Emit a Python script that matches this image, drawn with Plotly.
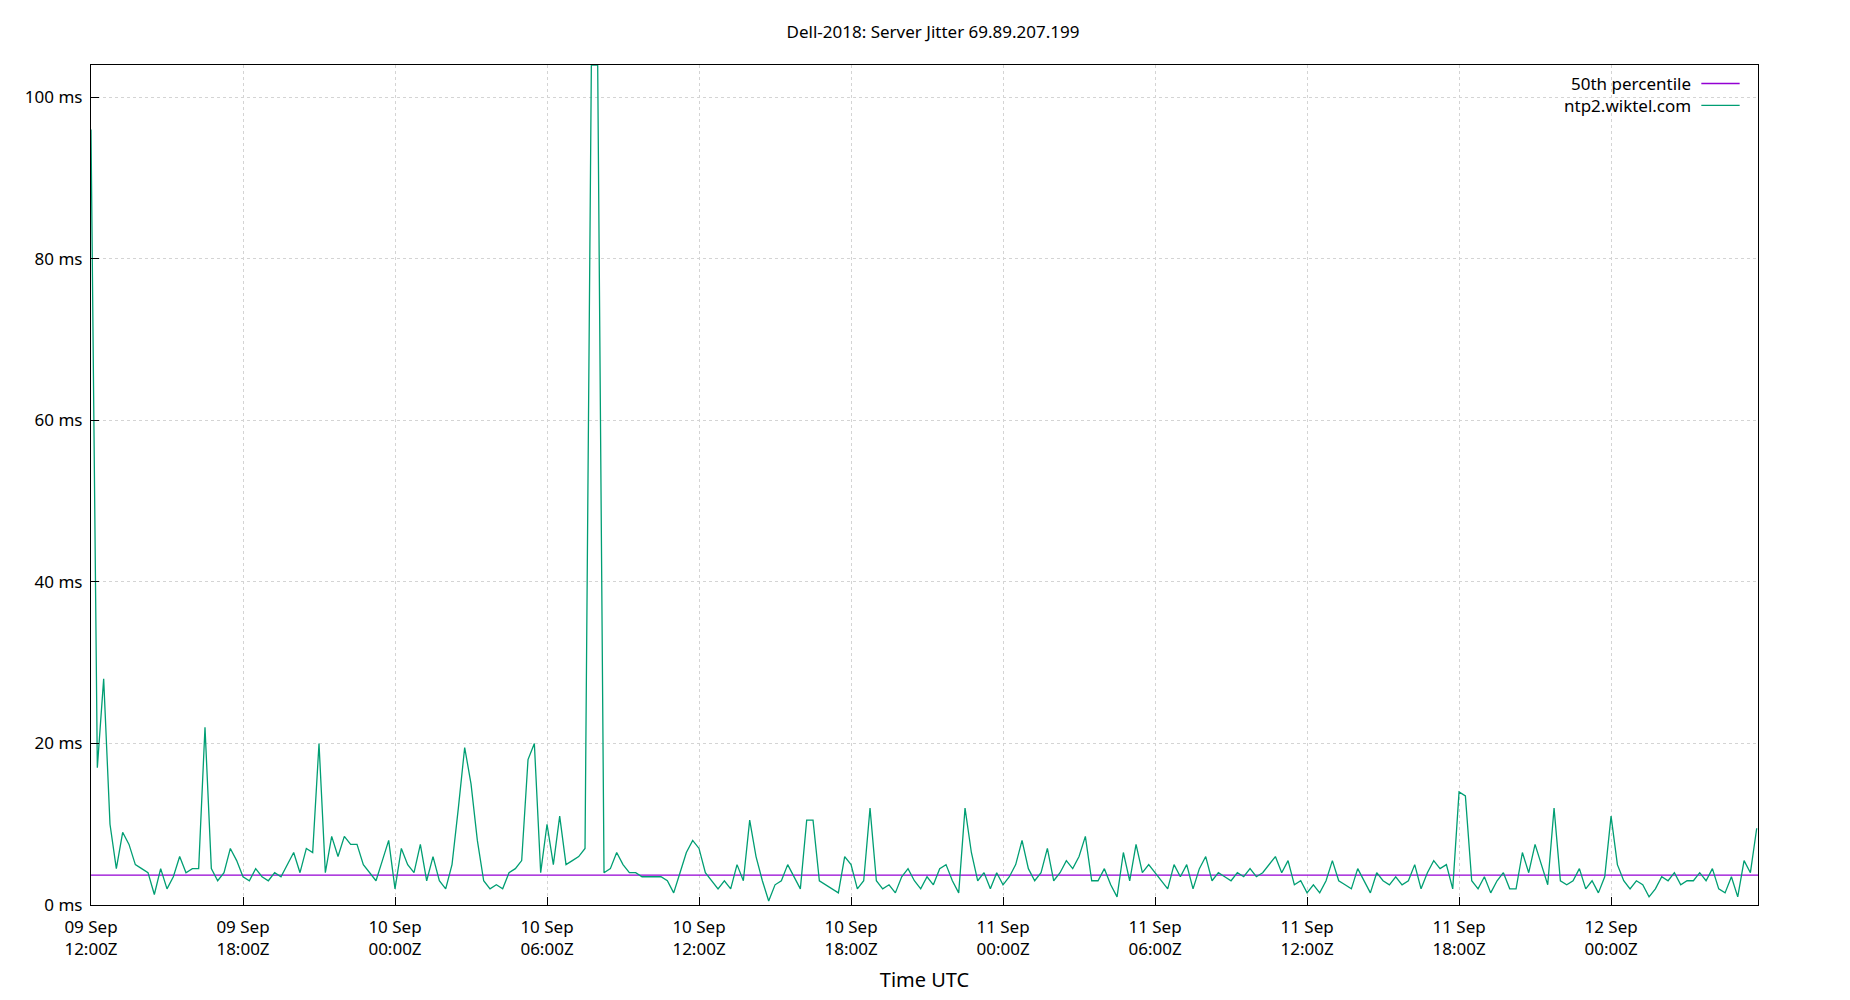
import plotly.graph_objects as go
import pandas as pd

start = "2018-09-09 12:00"
step_minutes = 15
jitter_ms = [
 96, 17, 28, 10, 4.5, 9, 7.5, 5, 4.5, 4, 1.3, 4.5, 2, 3.5, 6, 4, 4.5, 4.5, 22, 4.5, 3, 4, 7, 5.5,
 3.5, 3, 4.5, 3.5, 3, 4, 3.5, 5, 6.5, 4, 7, 6.5, 20, 4, 8.5, 6, 8.5, 7.5, 7.5, 5, 4, 3, 5.5, 8,
 2, 7, 5, 4, 7.5, 3, 6, 3, 2, 5, 12, 19.5, 15, 8, 3, 2, 2.5, 2, 4, 4.5, 5.5, 18, 20, 4,
 10, 5, 11, 5, 5.5, 6, 7, 104, 104, 4, 4.5, 6.5, 5, 4, 4, 3.5, 3.5, 3.5, 3.5, 3, 1.5, 4, 6.5, 8,
 7, 4, 3, 2, 3, 2, 5, 3, 10.5, 6, 3, 0.5, 2.5, 3, 5, 3.5, 2, 10.5, 10.5, 3, 2.5, 2, 1.5, 6,
 5, 2, 3, 12, 3, 2, 2.5, 1.5, 3.5, 4.5, 3, 2, 3.5, 2.5, 4.5, 5, 3, 1.5, 12, 6.5, 3, 4, 2, 4,
 2.5, 3.5, 5, 8, 4.5, 3, 4, 7, 3, 4, 5.5, 4.5, 6, 8.5, 3, 3, 4.5, 2.5, 1, 6.5, 3, 7.5, 4, 5,
 4, 3, 2, 5, 3.5, 5, 2, 4.5, 6, 3, 4, 3.5, 3, 4, 3.5, 4.5, 3.5, 4, 5, 6, 4, 5.5, 2.5, 3,
 1.5, 2.5, 1.5, 3, 5.5, 3, 2.5, 2, 4.5, 3, 1.5, 4, 3, 2.5, 3.5, 2.5, 3, 5, 2, 4, 5.5, 4.5, 5, 2,
 14, 13.5, 3, 2, 3.5, 1.5, 3, 4, 2, 2, 6.5, 4, 7.5, 5, 2.5, 12, 3, 2.5, 3, 4.5, 2, 3, 1.5, 3.5,
 11, 5, 3, 2, 3, 2.5, 1, 2, 3.5, 3, 4, 2.5, 3, 3, 4, 3, 4.5, 2, 1.5, 3.5, 1, 5.5, 4, 9.5,
]
median_ms = 3.7
x_end = "2018-09-12 05:48"
tick_vals = ["2018-09-09 12:00", "2018-09-09 18:00", "2018-09-10 00:00", "2018-09-10 06:00",
             "2018-09-10 12:00", "2018-09-10 18:00", "2018-09-11 00:00", "2018-09-11 06:00",
             "2018-09-11 12:00", "2018-09-11 18:00", "2018-09-12 00:00"]
tick_text = ["09 Sep<br>12:00Z", "09 Sep<br>18:00Z", "10 Sep<br>00:00Z", "10 Sep<br>06:00Z",
             "10 Sep<br>12:00Z", "10 Sep<br>18:00Z", "11 Sep<br>00:00Z", "11 Sep<br>06:00Z",
             "11 Sep<br>12:00Z", "11 Sep<br>18:00Z", "12 Sep<br>00:00Z"]

times = pd.date_range(start, periods=len(jitter_ms), freq=f"{step_minutes}min")
green = "#009e73"
purple = "#9400d3"

fig = go.Figure()
fig.add_trace(go.Scatter(x=[times[0], x_end], y=[median_ms, median_ms], mode="lines",
                         line=dict(color=purple, width=1.3), name="50th percentile"))
fig.add_trace(go.Scatter(x=times, y=jitter_ms, mode="lines",
                         line=dict(color=green, width=1.3), name="ntp2.wiktel.com"))

font = dict(family="Noto Sans, DejaVu Sans, sans-serif", size=17, color="#000")
axis_common = dict(showline=True, linecolor="#000", linewidth=1.3, mirror=True,
                   ticks="inside", ticklen=8, tickcolor="#000",
                   showgrid=True, gridcolor="#d4d4d4", griddash="dot", gridwidth=1, zeroline=False)
fig.update_layout(
    width=1850, height=1000, paper_bgcolor="white", plot_bgcolor="white",
    margin=dict(l=83, r=100, t=57, b=103, autoexpand=False), font=font, showlegend=False,
    title=dict(text="Dell-2018: Server Jitter 69.89.207.199", x=0.5, y=0.982,
               xanchor="center", font=dict(size=17)),
    xaxis=dict(range=[times[0], x_end], tickvals=tick_vals, ticktext=tick_text,
               ticklabelstandoff=6, title=dict(text="Time UTC", standoff=14), **axis_common),
    yaxis=dict(range=[0, 104], tickvals=[0, 20, 40, 60, 80, 100], ticklabelstandoff=4,
               ticktext=["0 ms", "20 ms", "40 ms", "60 ms", "80 ms", "100 ms"], **axis_common),
)
for i, (name, col) in enumerate([("50th percentile", purple), ("ntp2.wiktel.com", green)]):
    yy = 0.978 - i * 0.026
    fig.add_annotation(xref="paper", yref="paper", x=0.961, y=yy, text=name, showarrow=False,
                       xanchor="right", yanchor="middle", font=font)
    fig.add_shape(type="line", xref="paper", yref="paper", x0=0.966, x1=0.989, y0=yy, y1=yy,
                  line=dict(color=col, width=1.3))
fig.write_html("out.html")
